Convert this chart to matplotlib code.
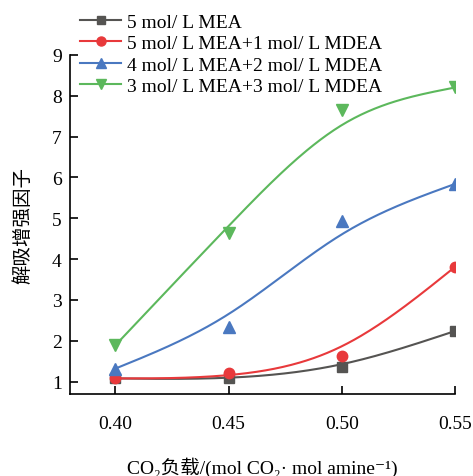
import numpy as np
import matplotlib

matplotlib.use("Agg")
import matplotlib.pyplot as plt

plt.rcParams["font.family"] = ["Liberation Serif", "DejaVu Serif", "Noto Sans CJK SC"]

# CO2 loading (mol CO2 / mol amine)
loading = [0.40, 0.45, 0.50, 0.55]

# desorption enhancement factor for each solvent blend
mea5 = [1.08, 1.10, 1.35, 2.24]
mea5_mdea1 = [1.08, 1.22, 1.63, 3.81]
mea4_mdea2 = [1.32, 2.34, 4.93, 5.84]
mea3_mdea3 = [1.89, 4.64, 7.64, 8.20]

labels = [
    "5 mol/ L MEA",
    "5 mol/ L MEA+1 mol/ L MDEA",
    "4 mol/ L MEA+2 mol/ L MDEA",
    "3 mol/ L MEA+3 mol/ L MDEA",
]
colors = ["#555452", "#e8393b", "#4a78c0", "#5cb85c"]
markers = ["s", "o", "^", "v"]
msizes = [7, 7.5, 8.5, 8.5]
xticks = [0.40, 0.45, 0.50, 0.55]
yticks = [1, 2, 3, 4, 5, 6, 7, 8, 9]


def smoothing_spline(x, y, lam, n=200):
    """Cubic smoothing spline (Reinsch), end points held fixed."""
    x = np.asarray(x, float)
    y = np.asarray(y, float)
    m = len(x)
    h = np.diff(x)
    Q = np.zeros((m, m - 2))
    R = np.zeros((m - 2, m - 2))
    for j in range(1, m - 1):
        Q[j - 1, j - 1] = 1 / h[j - 1]
        Q[j, j - 1] = -1 / h[j - 1] - 1 / h[j]
        Q[j + 1, j - 1] = 1 / h[j]
        R[j - 1, j - 1] = (h[j - 1] + h[j]) / 3
        if j < m - 2:
            R[j - 1, j] = R[j, j - 1] = h[j] / 6
    w = np.ones(m)
    w[0] = w[-1] = 1e8
    K = Q @ np.linalg.solve(R, Q.T)
    f = np.linalg.solve(np.diag(w) + lam * K, w * y)
    M = np.zeros(m)
    M[1:-1] = np.linalg.solve(R, Q.T @ f)

    xs = np.linspace(x[0], x[-1], n)
    idx = np.clip(np.searchsorted(x, xs) - 1, 0, m - 2)
    hi = h[idx]
    a = (x[idx + 1] - xs) / hi
    b = (xs - x[idx]) / hi
    ys = (a * f[idx] + b * f[idx + 1]
          + ((a ** 3 - a) * M[idx] + (b ** 3 - b) * M[idx + 1]) * hi ** 2 / 6)
    return xs, ys


fig = plt.figure(figsize=(4.73, 4.77), dpi=100)
ax = fig.add_axes([0.148, 0.172, 0.814, 0.711])

series = [mea5, mea5_mdea1, mea4_mdea2, mea3_mdea3]
for vals, lab, c, m, ms in zip(series, labels, colors, markers, msizes):
    xs, ys = smoothing_spline(loading, vals, lam=1e-5)
    ax.plot(xs, ys, color=c, lw=1.5)
    ax.plot(loading, vals, ls="none", marker=m, ms=ms, color=c, mec=c)
    # legend entry: line with marker in the middle
    ax.plot([], [], color=c, lw=1.5, marker=m, ms=ms - 1, label=lab)

ax.set_xlim(0.38, 0.55)
ax.set_ylim(0.7, 9)
ax.set_xticks(xticks)
ax.set_xticklabels([f"{t:.2f}" for t in xticks])
ax.set_yticks(yticks)
ax.tick_params(direction="in", length=6, width=1.2, labelsize=14)
ax.tick_params(axis="x", pad=15)
ax.tick_params(axis="y", pad=6)
for side in ["top", "right"]:
    ax.spines[side].set_visible(False)
for side in ["left", "bottom"]:
    ax.spines[side].set_linewidth(1.2)

ax.set_xlabel("CO₂负载/(mol CO₂· mol amine⁻¹)", fontsize=14, labelpad=18)
ax.set_ylabel("解吸增强因子", fontsize=14, labelpad=14)

fig.legend(
    loc="upper left",
    bbox_to_anchor=(0.145, 0.995),
    frameon=False,
    fontsize=14,
    handlelength=2.1,
    handletextpad=0.3,
    labelspacing=0.2,
    borderaxespad=0.2,
)

fig.savefig("out.png", dpi=100)
plt.close(fig)
